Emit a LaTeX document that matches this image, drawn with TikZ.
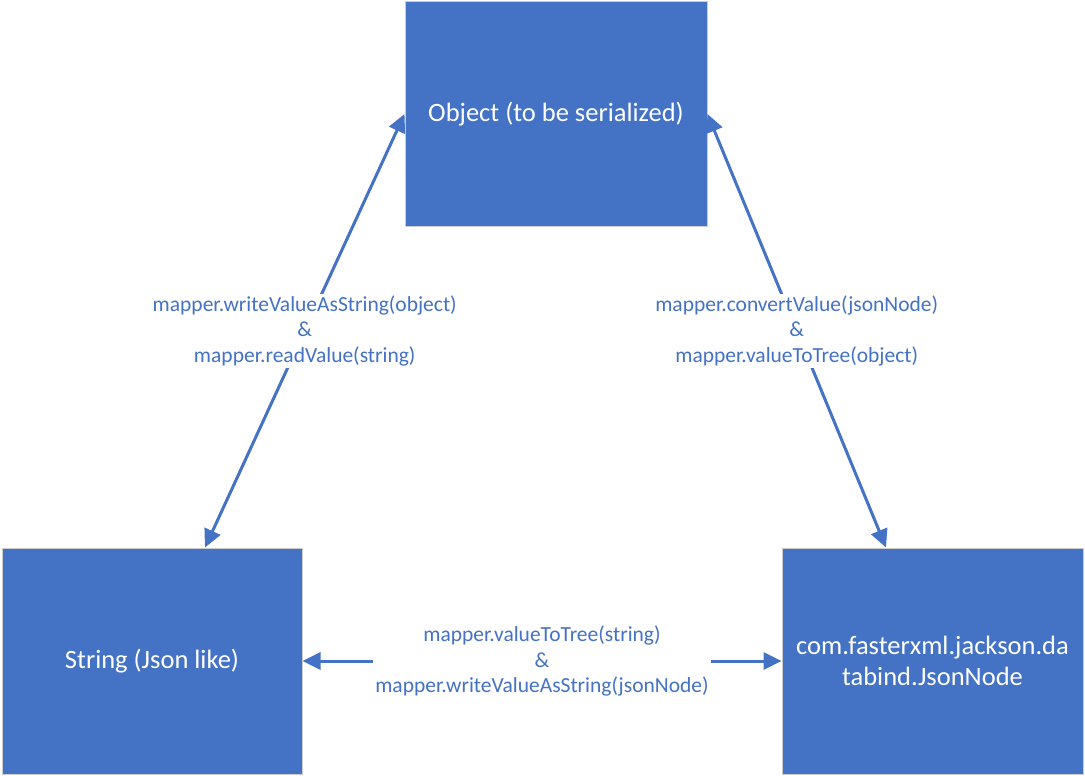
\documentclass[tikz,border=0pt]{standalone}
\usepackage{fontspec}
\setmainfont{Carlito}
\usetikzlibrary{positioning,arrows.meta}
\definecolor{boxblue}{HTML}{4472C4}

\begin{document}
\begin{tikzpicture}[x=1pt,y=-1pt,
    >={Triangle[length=18pt,width=17pt]},
    every node/.style={align=center},
    blockbox/.style={rectangle, fill=boxblue, draw=black!20, line width=1pt,
        text=white, inner sep=0pt, font=\fontsize{26.5}{31}\selectfont},
    link/.style={draw=boxblue, line width=3pt},
    linklabel/.style={fill=white, text=boxblue, inner sep=2pt,
        font=\fontsize{21.5}{25.5}\selectfont},
    ]
    \useasboundingbox (0,0) rectangle (1085,776);

    % the three blocks
    \node[blockbox, minimum width=302pt, minimum height=224pt] (obj) at (556,114) {Object (to be serialized)};
    \node[blockbox, minimum width=300pt, minimum height=226pt] (str) at (152,661) {String (Json like)};
    \node[blockbox, minimum width=301pt, minimum height=226pt] (jnode) at (932.5,661) {com.fasterxml.jackson.da\\tabind.JsonNode};

    % connectors
    \draw[link,<->] (obj.west) -- node[linklabel] {mapper.writeValueAsString(object)\\\&\\mapper.readValue(string)} ([xshift=53pt]str.north);
    \draw[link,<->] (obj.east) -- node[linklabel] {mapper.convertValue(jsonNode)\\\&\\mapper.valueToTree(object)} ([xshift=-46.5pt]jnode.north);
    \draw[link,<->] (str.east) -- node[linklabel] {mapper.valueToTree(string)\\\&\\mapper.writeValueAsString(jsonNode)} (jnode.west);
\end{tikzpicture}
\end{document}
